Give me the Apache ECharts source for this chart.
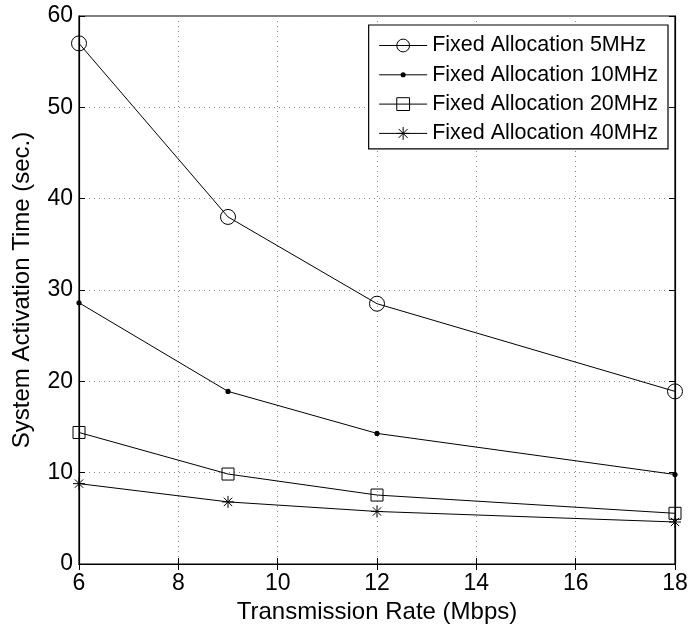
<!DOCTYPE html>
<html>
<head>
<meta charset="utf-8">
<script src="https://cdn.jsdelivr.net/npm/echarts@6/dist/echarts.min.js"></script>
<style>
html,body{margin:0;padding:0;background:#fff;}
#chart{width:691px;height:631px;}
</style>
</head>
<body>
<div id="chart"></div>
<script>
var rates = [6, 9, 12, 18];
var alloc5 = [57, 38, 28.5, 18.9];
var alloc10 = [28.6, 18.9, 14.3, 9.8];
var alloc20 = [14.4, 9.85, 7.55, 5.55];
var alloc40 = [8.8, 6.8, 5.75, 4.6];
var names = ['Fixed Allocation 5MHz', 'Fixed Allocation 10MHz', 'Fixed Allocation 20MHz', 'Fixed Allocation 40MHz'];
var xTicks = [6, 8, 10, 12, 14, 16, 18];
var yTicks = [0, 10, 20, 30, 40, 50, 60];

var FONT = 'Liberation Sans';
function pairs(ys){ return rates.map(function(x,i){ return [x, ys[i]]; }); }
var starPath = 'path://M10,0L10,20M0,10L20,10M3,3L17,17M3,17L17,3';
var dotPath = 'path://M0,0Z M20,20Z M6,10 A4,4 0 1 1 14,10 A4,4 0 1 1 6,10Z';

function mk(name, data, symbol, size, filled){
  return {
    name: name, type: 'line', data: pairs(data),
    symbol: symbol, symbolSize: size,
    lineStyle: {color: '#000', width: 1},
    itemStyle: filled ? {color: '#000', borderWidth: 0} : {color: 'rgba(0,0,0,0)', borderColor: '#000', borderWidth: 1},
    emphasis: {disabled: true},
    animation: false, z: 3
  };
}

var chart = echarts.init(document.getElementById('chart'), null, {renderer: 'canvas'});
var axisLine = {show: true, lineStyle: {color: '#000', width: 1.2}};
var axisTick = {show: true, inside: true, length: 6, lineStyle: {color: '#000'}};
chart.setOption({
  backgroundColor: '#fff',
  animation: false,
  grid: {left: 79, right: 16, top: 16, bottom: 67, show: true, borderColor: '#000', borderWidth: 1.2, backgroundColor: 'transparent'},
  legend: {
    orient: 'vertical', right: 23, top: 25,
    backgroundColor: '#fff', borderColor: '#000', borderWidth: 1.2,
    padding: [9, 10, 4, 10],
    itemWidth: 48, itemHeight: 16, itemGap: 6.3,
    lineStyle: {width: 1},
    textStyle: {fontFamily: FONT, fontSize: 21.5, color: '#000', lineHeight: 23},
    data: [
      {name: names[0], itemStyle: {borderWidth: 1}},
      {name: names[1], itemStyle: {borderWidth: 0}},
      {name: names[2], itemStyle: {borderWidth: 1}},
      {name: names[3], itemStyle: {borderWidth: 1}}
    ]
  },
  xAxis: [{
    type: 'value', min: 6, max: 18, interval: 2,
    name: 'Transmission Rate (Mbps)', nameLocation: 'middle', nameGap: 31,
    nameTextStyle: {fontFamily: FONT, fontSize: 24, color: '#000'},
    axisLabel: {fontFamily: FONT, fontSize: 23, color: '#000', margin: 8},
    splitLine: {show: true, lineStyle: {color: '#888', type: [1, 4], width: 1}},
    axisLine: axisLine, axisTick: axisTick
  }, {
    type: 'value', position: 'top', min: 6, max: 18, interval: 2,
    axisLabel: {show: false}, splitLine: {show: false},
    axisLine: axisLine, axisTick: axisTick
  }],
  yAxis: [{
    type: 'value', min: 0, max: 60, interval: 10,
    name: 'System Activation Time (sec.)', nameLocation: 'middle', nameGap: 45,
    nameTextStyle: {fontFamily: FONT, fontSize: 24, color: '#000'},
    axisLabel: {fontFamily: FONT, fontSize: 23, color: '#000', margin: 6},
    splitLine: {show: true, lineStyle: {color: '#888', type: [1, 4], width: 1}},
    axisLine: axisLine, axisTick: axisTick
  }, {
    type: 'value', position: 'right', min: 0, max: 60, interval: 10,
    axisLabel: {show: false}, splitLine: {show: false},
    axisLine: axisLine, axisTick: axisTick
  }],
  series: [
    mk(names[0], alloc5, 'circle', 15, false),
    mk(names[1], alloc10, dotPath, 13, true),
    mk(names[2], alloc20, 'rect', 12, false),
    mk(names[3], alloc40, starPath, 12, false)
  ]
});
</script>
</body>
</html>
